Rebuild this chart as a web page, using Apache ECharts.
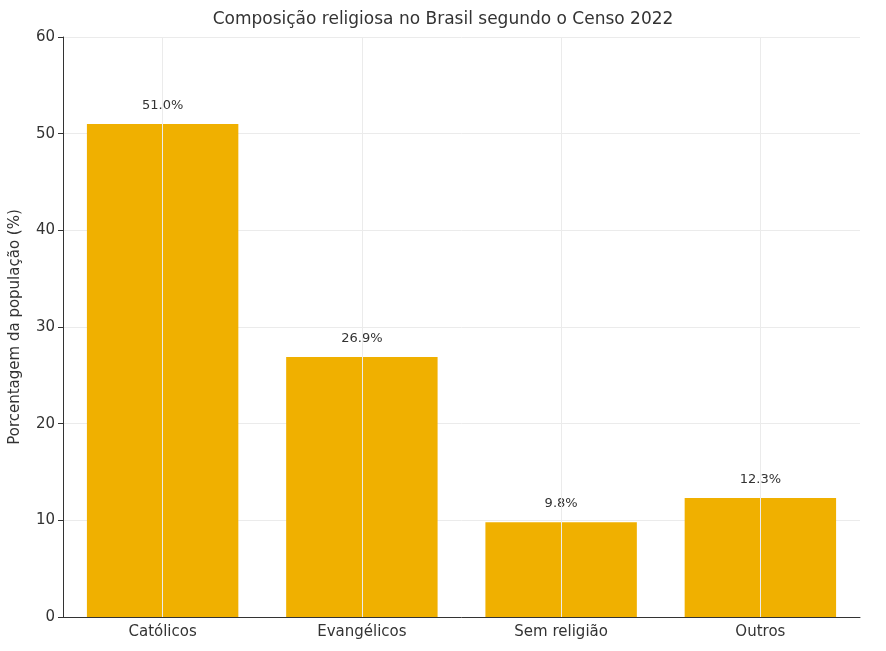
<!DOCTYPE html>
<html><head><meta charset="utf-8">
<script src="https://cdn.jsdelivr.net/npm/echarts@6/dist/echarts.min.js"></script>
<style>html,body{margin:0;padding:0;background:#fff}#c{width:886px;height:651px}</style>
</head><body><div id="c"></div>
<script>
const categories = ['Católicos','Evangélicos','Sem religião','Outros'];
const values = [51.0, 26.9, 9.8, 12.3];
const yTicks = [0,10,20,30,40,50,60];
const chart = echarts.init(document.getElementById('c'));
const font = 'DejaVu Sans';
chart.setOption({
  animation:false,
  textStyle:{fontFamily:font},
  title:{text:'Composição religiosa no Brasil segundo o Censo 2022',left:'center',top:6,
    textStyle:{fontFamily:font,fontSize:17,fontWeight:'normal',color:'#333'}},
  grid:{left:62,right:26,top:37,bottom:34},
  xAxis:{type:'category',data:categories,
    axisLine:{lineStyle:{color:'#333'}},axisTick:{alignWithLabel:true,lineStyle:{color:'#333'}},
    axisLabel:{fontSize:15,color:'#333',margin:8},splitLine:{show:false}},
  yAxis:{type:'value',min:yTicks[0],max:yTicks[yTicks.length-1],interval:10,
    name:'Porcentagem da população (%)',nameLocation:'middle',nameGap:40,
    nameTextStyle:{fontSize:15,color:'#333'},
    axisLine:{show:true,lineStyle:{color:'#333'}},axisTick:{show:true,lineStyle:{color:'#333'}},
    axisLabel:{fontSize:15,color:'#333'},splitLine:{lineStyle:{color:'#ebebeb'}}},
  series:[
    {type:'line',data:[],z:0,markLine:{silent:true,symbol:'none',label:{show:false},
      lineStyle:{color:'#ebebeb',type:'solid',width:1},
      data:categories.map(c=>({xAxis:c}))}},
    {type:'bar',data:values,barWidth:'76%',z:2,itemStyle:{color:'#F0B000'},
      label:{show:true,position:'top',distance:12,fontSize:13,color:'#333',
        formatter:p=>p.value.toFixed(1)+'%'}}
  ]
});
</script></body></html>
